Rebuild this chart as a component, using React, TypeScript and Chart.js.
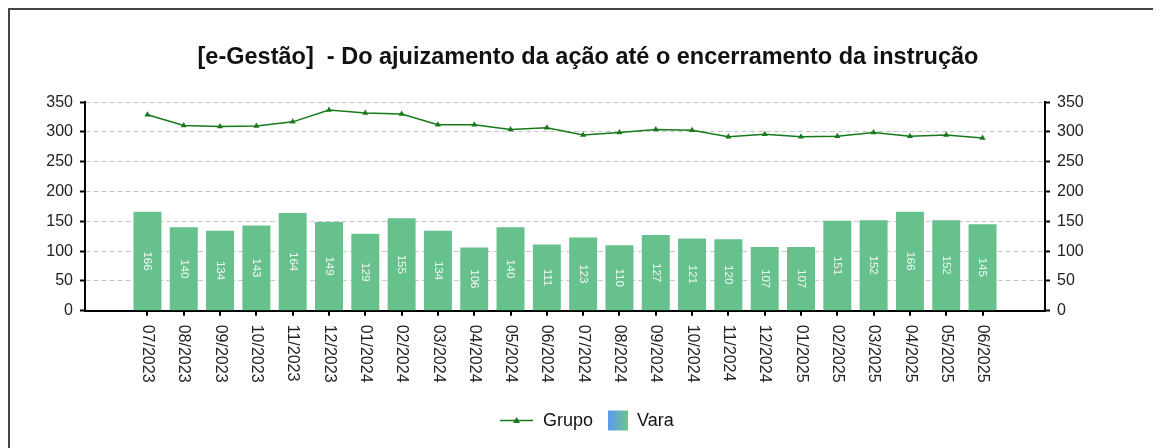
import React, { useEffect, useRef } from 'react';
import { Chart, registerables } from 'chart.js';

Chart.register(...registerables);

const categories = [
  '07/2023', '08/2023', '09/2023', '10/2023', '11/2023', '12/2023',
  '01/2024', '02/2024', '03/2024', '04/2024', '05/2024', '06/2024',
  '07/2024', '08/2024', '09/2024', '10/2024', '11/2024', '12/2024',
  '01/2025', '02/2025', '03/2025', '04/2025', '05/2025', '06/2025',
];
const grupo = [
  329, 311, 309, 310, 317, 337, 332, 330, 312, 312, 304, 307,
  295, 299, 304, 303, 292, 296, 292, 293, 299, 293, 295, 290,
];
const vara = [
  166, 140, 134, 143, 164, 149, 129, 155, 134, 106, 140, 111,
  123, 110, 127, 121, 120, 107, 107, 151, 152, 166, 152, 145,
];
const titleText = '[e-Gestão]  - Do ajuizamento da ação até o encerramento da instrução';
const legendLabels = ['Grupo', 'Vara'];
const yMin = 0;
const yMax = 350;
const yStep = 50;

const FONT = '"Liberation Sans", Arial, Helvetica, sans-serif';
const LINE_COLOR = '#17791a';
const BAR_COLOR = '#66c18c';

const customPlugin = {
  id: 'customDraw',
  afterDatasetsDraw(chart: any) {
    const ctx = chart.ctx;
    const meta = chart.getDatasetMeta(1);
    ctx.save();
    ctx.font = `11.5px ${FONT}`;
    ctx.fillStyle = 'rgba(255,255,255,0.92)';
    ctx.textAlign = 'center';
    ctx.textBaseline = 'middle';
    meta.data.forEach((el: any, i: number) => {
      const cy = (el.y + el.base) / 2;
      ctx.save();
      ctx.translate(el.x, cy);
      ctx.rotate(Math.PI / 2);
      ctx.fillText(String(vara[i]), 0, 0);
      ctx.restore();
    });
    ctx.restore();
  },
  afterDraw(chart: any) {
    const ctx = chart.ctx;
    const xs = chart.scales.x;
    const area = chart.chartArea;
    ctx.save();
    ctx.font = `16px ${FONT}`;
    ctx.fillStyle = '#222';
    ctx.textAlign = 'left';
    ctx.textBaseline = 'middle';
    categories.forEach((c, i) => {
      const x = xs.getPixelForValue(i);
      ctx.save();
      ctx.translate(x, area.bottom + 14);
      ctx.rotate(Math.PI / 2);
      ctx.fillText(c, 0, 0);
      ctx.restore();
    });

    // legend
    const ly = 410.5;
    ctx.strokeStyle = LINE_COLOR;
    ctx.lineWidth = 1.5;
    ctx.beginPath();
    ctx.moveTo(490, ly);
    ctx.lineTo(523, ly);
    ctx.stroke();
    ctx.fillStyle = LINE_COLOR;
    ctx.beginPath();
    ctx.moveTo(506.5, ly - 3.5);
    ctx.lineTo(510, ly + 2.5);
    ctx.lineTo(503, ly + 2.5);
    ctx.closePath();
    ctx.fill();
    ctx.font = `18px ${FONT}`;
    ctx.fillStyle = '#111';
    ctx.fillText(legendLabels[0], 533, ly + 1);
    const g = ctx.createLinearGradient(598, 0, 618, 0);
    g.addColorStop(0, '#5b9bf3');
    g.addColorStop(1, '#6cc58a');
    ctx.fillStyle = g;
    ctx.fillRect(598, ly - 10, 20, 20);
    ctx.fillStyle = '#111';
    ctx.fillText(legendLabels[1], 627, ly + 1);
    ctx.restore();
  },
};

export default function App() {
  const ref = useRef<HTMLCanvasElement>(null);
  useEffect(() => {
    if (!ref.current) return;
    const tickFont = { size: 16, family: FONT };
    const chart = new Chart(ref.current, {
      type: 'bar',
      data: {
        datasets: [
          {
            type: 'line',
            label: legendLabels[0],
            data: grupo.map((v, i) => ({ x: i, y: v })),
            borderColor: LINE_COLOR,
            backgroundColor: LINE_COLOR,
            borderWidth: 1.5,
            pointStyle: 'triangle',
            pointRadius: 3.5,
            pointBorderWidth: 0,
            tension: 0,
            order: 0,
            yAxisID: 'y',
          } as any,
          {
            type: 'bar',
            label: legendLabels[1],
            data: vara.map((v, i) => ({ x: i, y: v })),
            backgroundColor: BAR_COLOR,
            barPercentage: 0.77,
            categoryPercentage: 1,
            order: 1,
            yAxisID: 'y',
          } as any,
        ],
      },
      options: {
        animation: false,
        responsive: false,
        devicePixelRatio: 1,
        layout: { padding: 0 },
        plugins: {
          legend: { display: false },
          tooltip: { enabled: false },
          title: {
            display: true,
            text: titleText,
            color: '#111',
            font: { size: 23.5, weight: 'bold', family: FONT },
            padding: { top: 33, bottom: 31 },
          },
        },
        scales: {
          x: {
            type: 'linear',
            offset: false,
            min: -1.72,
            max: 24.72,
            afterBuildTicks: (s: any) => {
              s.ticks = categories.map((_, i) => ({ value: i }));
            },
            afterFit: (s: any) => {
              s.height = 155.3;
            },
            ticks: { display: false },
            grid: {
              offset: false,
              drawOnChartArea: false,
              drawTicks: true,
              tickLength: 5,
              tickColor: '#000',
              tickWidth: 2,
              tickBorderDash: [],
              color: '#000',
              lineWidth: 2,
            },
            border: { display: true, color: '#000', width: 2 },
          },
          y: {
            position: 'left',
            min: yMin,
            max: yMax,
            ticks: { stepSize: yStep, font: tickFont, color: '#222', padding: 7 },
            grid: {
              color: '#c8c8c8',
              lineWidth: 1,
              tickColor: '#000',
              tickLength: 5,
              tickWidth: 2,
              tickBorderDash: [],
            },
            border: { display: true, color: '#000', width: 2, dash: [5, 3] },
            afterFit: (s: any) => {
              s.width = 75;
            },
          },
          y2: {
            position: 'right',
            min: yMin,
            max: yMax,
            ticks: { stepSize: yStep, font: tickFont, color: '#222', padding: 7 },
            grid: {
              drawOnChartArea: false,
              tickColor: '#000',
              tickLength: 5,
              tickWidth: 2,
              tickBorderDash: [],
            },
            border: { display: true, color: '#000', width: 2 },
            afterFit: (s: any) => {
              s.width = 121;
            },
          },
        },
      } as any,
      plugins: [customPlugin],
    });
    return () => chart.destroy();
  }, []);

  return (
    <div style={{ width: 1153, height: 440, overflow: 'hidden' }}>
      <div style={{ width: 1156, height: 456, border: '2px solid #444' }}>
        <canvas ref={ref} width={1156} height={456} style={{ display: 'block' }} />
      </div>
    </div>
  );
}
